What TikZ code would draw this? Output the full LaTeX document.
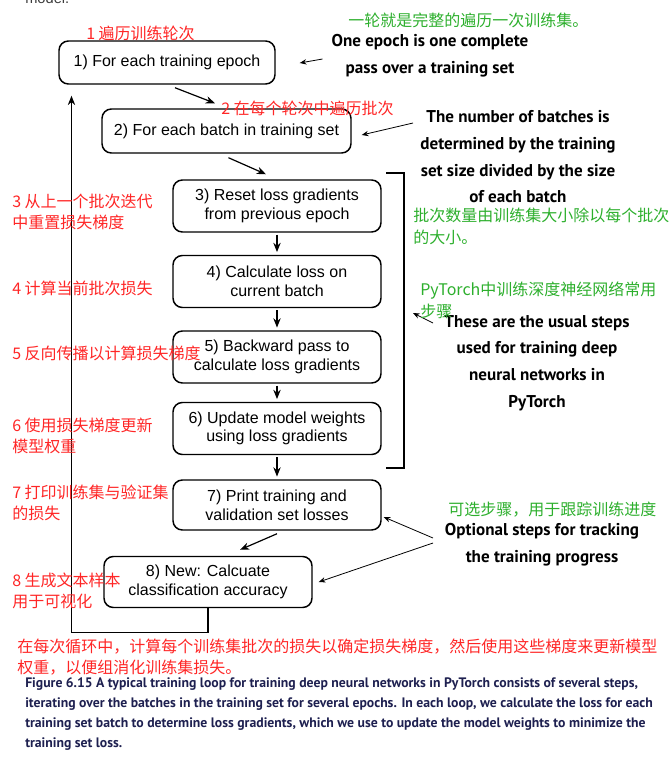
\documentclass[tikz,border=0pt]{standalone}
\usepackage{fontspec}
\setmainfont{Liberation Sans}
\newfontfamily\cjk{Noto Sans CJK SC}
\newfontfamily\notefont{PT Sans}
\usetikzlibrary{arrows.meta,calc}
\definecolor{notered}{RGB}{255,38,38}
\definecolor{notegreen}{RGB}{45,175,45}
\definecolor{capblue}{RGB}{30,32,80}

\begin{document}
\begin{tikzpicture}[x=0.75pt,y=0.75pt,yscale=-1,xscale=1,
  stepbox/.style={draw,line width=1.1pt,rounded corners=7pt,align=center,inner sep=0pt,
    minimum width=156pt,minimum height=39pt,font=\fontsize{12}{14}\selectfont},
  arr/.style={-{Stealth[length=7pt,width=5.5pt]},line width=0.9pt},
  thinarr/.style={-{Stealth[length=5pt,width=4pt]},line width=0.6pt},
  bnote/.style={align=center,inner sep=0pt,font=\notefont\bfseries\fontsize{12.8}{20}\selectfont},
  rnote/.style={anchor=west,align=left,inner sep=0pt,text=notered,font=\cjk\fontsize{12}{16}\selectfont},
  gnote/.style={anchor=west,align=left,inner sep=0pt,text=notegreen,font=\cjk\fontsize{12}{16.5}\selectfont}]
\path[use as bounding box] (0,0) rectangle (670,761);

% Text Node (cut off at top)
\node [anchor=base west,inner sep=0pt,text={rgb,255:red,60;green,60;blue,60},font=\fontsize{11}{13}\selectfont] (prev) at (25,3) {model.};

%Shape: Steps
\node [stepbox,minimum width=162pt,minimum height=32.25pt] (b1) at (167,62.5) {1) For each training epoch};
\node [stepbox,minimum width=186.75pt,minimum height=33pt] (b2) at (226.5,131) {2) For each batch in training set};
\node [stepbox] (b3) at (277,206) {3) Reset loss gradients\\from previous epoch};
\node [stepbox] (b4) at (277,281.5) {4) Calculate loss on\\current batch};
\node [stepbox] (b5) at (277,357) {5) Backward pass to\\calculate loss gradients};
\node [stepbox] (b6) at (277,428.5) {6) Update model weights\\using loss gradients};
\node [stepbox,minimum height=37.5pt] (b7) at (277,505) {7) Print training and\\validation set losses};
\node [stepbox,minimum height=38.25pt] (b8) at (208,582) {8) New: Calcuate\\classification accuracy};

%Straight Lines: step to step
\draw [arr] ($(b1.south)+(8,3)$) -- ($(b2.north)+(-11.5,-5)$);
\draw [arr] ($(b2.south)+(2,4)$) -- ($(b3.north)+(-11,-5)$);
\draw [arr,shorten <=1.5pt,shorten >=2pt] (b3) -- (b4);
\draw [arr,shorten <=1.5pt,shorten >=2pt] (b4) -- (b5);
\draw [arr,shorten <=1.5pt,shorten >=2pt] (b5) -- (b6);
\draw [arr,shorten <=1.5pt,shorten >=2pt] (b6) -- (b7);
\draw [arr] ($(b7.south)+(0,3)$) -- ($(b8.north)+(32,-6)$);
%Loop back
\draw [arr] (b8.south) -- ++(0,24) -| ($(b1.south)+(-95.5,11)$);

%Bracket
\coordinate (brtop) at (386,173);
\coordinate (brbot) at (386,468);
\draw [line width=0.9pt] (brtop) -- ++(18,0) |- (brbot);

% Text Node: black notes
\node [bnote] (epochnote) at (430,56) {One epoch is one complete\\pass over a training set};
\node [bnote] (batchnote) at (518,157) {The number of batches is\\determined by the training\\set size divided by the size\\of each batch};
\node [bnote] (usualnote) at (537,363) {These are the usual steps\\used for training deep\\neural networks in\\PyTorch};
\node [bnote] (optnote) at (542,544.5) {Optional steps for tracking\\the training progress};

%Straight Lines: notes to steps
\coordinate (epochtail) at (322.5,59);
\coordinate (batchtail) at (413,123);
\coordinate (usualtail) at (433,323);
\coordinate (opttail1) at (433,538);
\coordinate (opttail2) at (433,543);
\draw [thinarr] (epochtail) -- ($(b1.east)+(24,0.5)$);
\draw [thinarr] (batchtail) -- ($(b2.east)+(10,4)$);
\draw [thinarr] (usualtail) -- ($(brtop)+(27,140)$);
\draw [thinarr] (opttail1) -- ($(b7.east)+(2,12)$);
\draw [thinarr] (opttail2) -- ($(b8.east)+(6,0)$);

% Text Node: green notes
\node [gnote] (g1) at (348,20) {一轮就是完整的遍历一次训练集。};
\node [gnote] (g2) at (413,226) {批次数量由训练集大小除以每个批次\\的大小。};
\node [gnote] (g3) at (420,300) {PyTorch中训练深度神经网络常用\\步骤};
\node [gnote] (g4) at (448,510) {可选步骤，用于跟踪训练进度};

% Text Node: red notes
\node [rnote] (r1) at (86,33) {1 遍历训练轮次};
\node [rnote] (r2) at (221,108) {2 在每个轮次中遍历批次};
\node [rnote] (r3) at (12,212) {3 从上一个批次迭代\\中重置损失梯度};
\node [rnote] (r4) at (12,288) {4 计算当前批次损失};
\node [rnote] (r5) at (12,353) {5 反向传播以计算损失梯度};
\node [rnote] (r6) at (12,436) {6 使用损失梯度更新\\模型权重};
\node [rnote] (r7) at (12,503) {7 打印训练集与验证集\\的损失};
\node [rnote] (r8) at (12,591) {8 生成文本样本\\用于可视化};
\node [rnote] (r9) at (17,657) {在每次循环中，计算每个训练集批次的损失以确定损失梯度，然后使用这些梯度来更新模型\\权重，以便组消化训练集损失。};

% Text Node: caption
\node [anchor=west,align=left,inner sep=0pt,text=capblue,font=\notefont\bfseries\fontsize{10.3}{15}\selectfont] (caption) at (25,714)
  {Figure 6.15 A typical training loop for training deep neural networks in PyTorch consists of several steps,\\
   iterating over the batches in the training set for several epochs. In each loop, we calculate the loss for each\\
   training set batch to determine loss gradients, which we use to update the model weights to minimize the\\
   training set loss.};
\end{tikzpicture}
\end{document}
